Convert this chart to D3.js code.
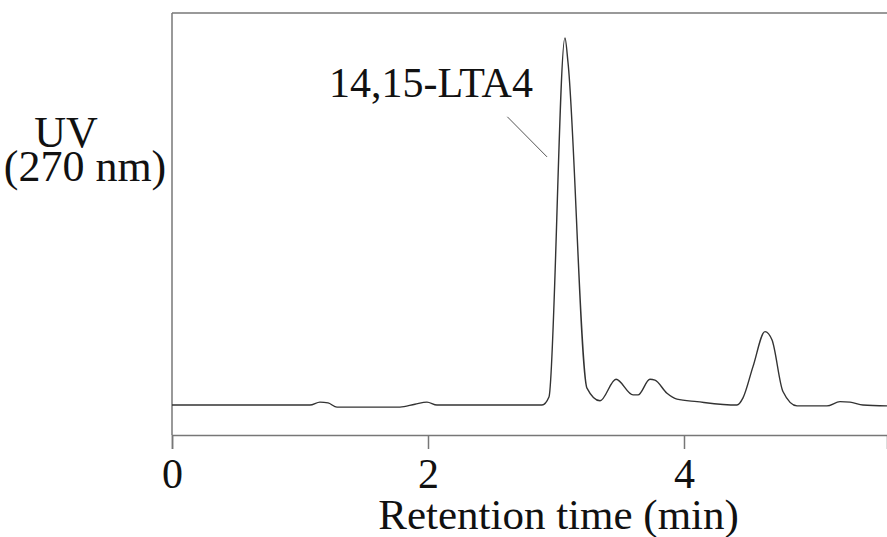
<!DOCTYPE html>
<html>
<head>
<meta charset="utf-8">
<script src="https://cdn.jsdelivr.net/npm/d3@7"></script>
<style>
  body { margin: 0; background: #fff; }
  svg text { font-family: "Liberation Serif", "Times New Roman", serif; fill: #111; }
</style>
</head>
<body>
<div id="chart"></div>
<script>
// chromatogram trace (time in min, signal in arbitrary units)
var times = [0, 1.078, 1.156, 1.219, 1.289, 1.781, 1.898, 1.992, 2.07, 2.891, 2.945,
  3.07, 3.094, 3.242, 3.344, 3.469, 3.602, 3.641, 3.734, 3.773, 3.867, 3.945, 4.102,
  4.414, 4.461, 4.539, 4.633, 4.688, 4.773, 4.883, 5.117, 5.219, 5.297, 5.398, 5.586];
var signal = [0.071, 0.071, 0.078, 0.076, 0.066, 0.066, 0.073, 0.078, 0.071, 0.071, 0.090,
  0.941, 0.882, 0.111, 0.081, 0.132, 0.095, 0.095, 0.132, 0.130, 0.099, 0.085, 0.079,
  0.071, 0.088, 0.162, 0.245, 0.225, 0.103, 0.069, 0.069, 0.079, 0.078, 0.071, 0.069];
var xTicks = [0, 2, 4];
var peakLabel = "14,15-LTA4";

// plot box (note: "top" is taken by window.top, so prefix these)
var W = 887, H = 537;
var PLOT_LEFT = 172, PLOT_RIGHT = 887, PLOT_TOP = 13, PLOT_BOTTOM = 435;

var svg = d3.select("#chart")
  .append("svg")
  .attr("width", W)
  .attr("height", H);

var x = d3.scaleLinear().domain([0, 5.586]).range([PLOT_LEFT, PLOT_RIGHT]);
var y = d3.scaleLinear().domain([0, 1]).range([PLOT_BOTTOM, PLOT_TOP]);

// frame: top and left lines
svg.append("line")
  .attr("x1", PLOT_LEFT).attr("x2", PLOT_RIGHT)
  .attr("y1", PLOT_TOP).attr("y2", PLOT_TOP)
  .style("stroke", "#777").style("stroke-width", 1.5);
svg.append("line")
  .attr("x1", PLOT_LEFT).attr("x2", PLOT_LEFT)
  .attr("y1", PLOT_TOP).attr("y2", PLOT_BOTTOM)
  .style("stroke", "#777").style("stroke-width", 1.5);

// bottom axis
var xAxis = d3.axisBottom(x)
  .tickValues(xTicks)
  .tickSize(14)
  .tickPadding(9)
  .tickFormat(d3.format("d"));

var gx = svg.append("g")
  .attr("transform", "translate(0," + PLOT_BOTTOM + ")")
  .call(xAxis);
gx.select(".domain").style("stroke", "#777").style("stroke-width", 1.5);
gx.selectAll(".tick line").style("stroke", "#777").style("stroke-width", 1.5);
gx.selectAll(".tick text")
  .style("font-family", '"Liberation Serif", "Times New Roman", serif')
  .style("font-size", "42px")
  .style("fill", "#111");

svg.append("text")
  .attr("x", x(3.02))
  .attr("y", 529)
  .attr("text-anchor", "middle")
  .style("font-size", "43px")
  .text("Retention time (min)");

// y axis title
svg.append("text")
  .attr("x", 66)
  .attr("y", 147)
  .attr("text-anchor", "middle")
  .style("font-size", "44px")
  .text("UV");
svg.append("text")
  .attr("x", 85)
  .attr("y", 181)
  .attr("text-anchor", "middle")
  .style("font-size", "44px")
  .text("(270 nm)");

// trace
var pts = times.map(function(t, i) { return [t, signal[i]]; });
var line = d3.line()
  .x(function(d) { return x(d[0]); })
  .y(function(d) { return y(d[1]); })
  .curve(d3.curveMonotoneX);

svg.append("path")
  .datum(pts)
  .attr("d", line)
  .style("fill", "none")
  .style("stroke", "#333")
  .style("stroke-width", 1.4);

// peak label and leader line
svg.append("text")
  .attr("x", 329)
  .attr("y", 97)
  .style("font-size", "42px")
  .text(peakLabel);
svg.append("line")
  .attr("x1", x(2.62)).attr("y1", y(0.754))
  .attr("x2", x(2.93)).attr("y2", y(0.659))
  .style("stroke", "#555").style("stroke-width", 1);
</script>
</body>
</html>
